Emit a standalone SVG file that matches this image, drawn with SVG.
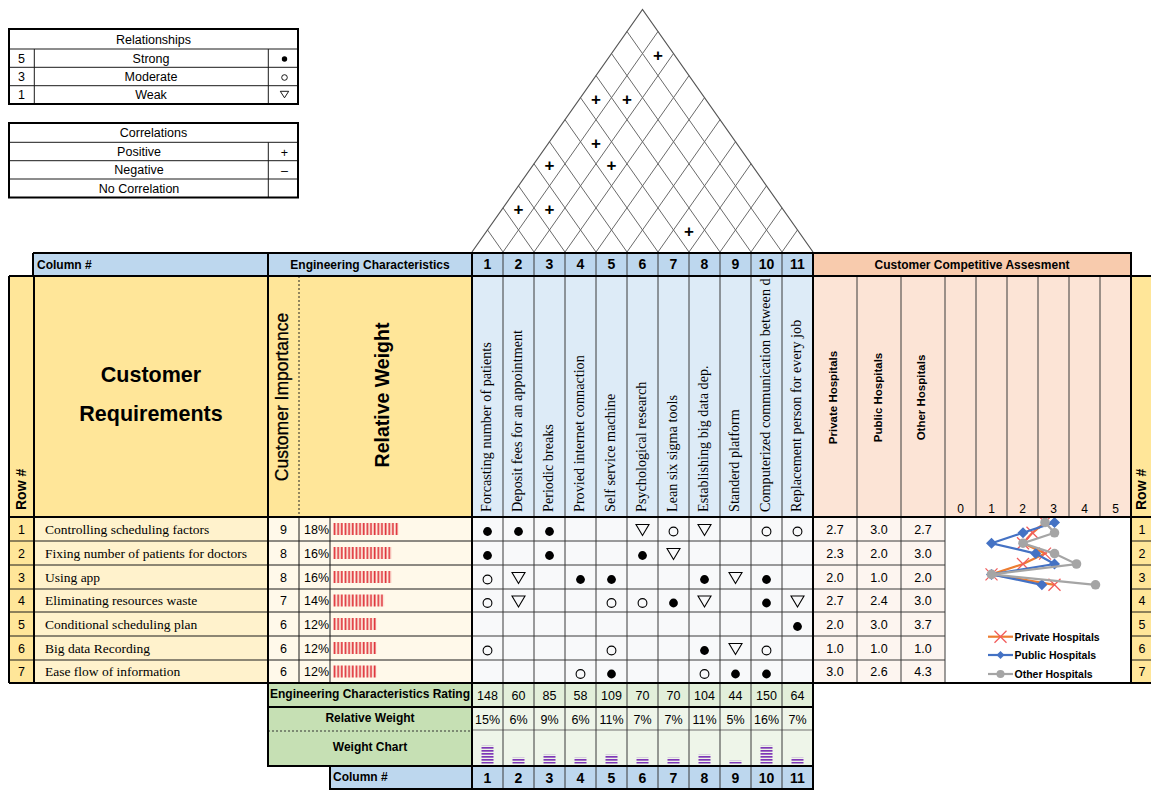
<svg xmlns="http://www.w3.org/2000/svg" width="1151" height="790" viewBox="0 0 1151 790">
<style>
text{font-family:"Liberation Sans",Arial,sans-serif;fill:#000}
.s{font-size:12.5px}
.c{text-anchor:middle}
.b{font-weight:bold}
.h12{font-size:12px;font-weight:bold}
.num{font-size:14px;font-weight:bold;text-anchor:middle}
.ec text{font-family:"Liberation Serif","Times New Roman",serif;font-size:14.2px}
.req text{font-family:"Liberation Serif","Times New Roman",serif;font-size:13.5px}
.thick{stroke:#000;stroke-width:2;fill:none}
.thin{stroke:#1a1a1a;stroke-width:1;fill:none}
.grid{stroke:#3a3a3a;stroke-width:1;fill:none}
.roof{stroke:#6a6a6a;stroke-width:1;fill:none}
.plus{font-size:17px;font-weight:bold;text-anchor:middle}
.leg{font-size:10.5px;font-weight:bold}
</style>
<defs>
<circle id="strong" r="4.4" fill="#000"/>
<circle id="mod" r="4.4" fill="none" stroke="#000" stroke-width="1.1"/>
<polygon id="weak" points="-6.5,-5.5 6.5,-5.5 0,5.5" fill="none" stroke="#000" stroke-width="1.1"/>
<pattern id="redbars" x="333" y="0" width="3.65" height="790" patternUnits="userSpaceOnUse"><rect x="0.6" y="0" width="1.8" height="790" fill="#E0353C"/></pattern>
<pattern id="purbars" x="0" y="0" width="1151" height="3" patternUnits="userSpaceOnUse"><rect x="0" y="0" width="1151" height="1.7" fill="#7E38B7"/></pattern>
<path id="mx" d="M-6,-6L6,6M-6,6L6,-6" stroke="#F25C5C" stroke-width="1.3" fill="none"/>
<polygon id="md" points="0,-5.5 5.5,0 0,5.5 -5.5,0" fill="#4472C4"/>
<circle id="mo" r="4.8" fill="#A5A5A5"/>
<clipPath id="clip10"><rect x="751" y="277" width="31" height="240"/></clipPath>
</defs>
<rect width="1151" height="790" fill="#fff"/>

<!-- Legend: Relationships -->
<g id="legend-relationships">
<rect x="9" y="29" width="289" height="75" fill="#fff"/>
<path class="thin" d="M9,49H298M9,67.3H298M9,85.7H298M34.3,49V104M268.3,49V104"/>
<rect class="thick" x="9" y="29" width="289" height="75"/>
<text class="s c" x="153.5" y="43.5">Relationships</text>
<text class="s c" x="21.5" y="62.7">5</text><text class="s c" x="151" y="62.7">Strong</text>
<text class="s c" x="21.5" y="81">3</text><text class="s c" x="151" y="81">Moderate</text>
<text class="s c" x="21.5" y="99.3">1</text><text class="s c" x="151" y="99.3">Weak</text>
<circle cx="284.5" cy="59" r="2.7" fill="#000"/>
<circle cx="284.5" cy="77.5" r="2.8" fill="none" stroke="#000" stroke-width="0.9"/>
<polygon points="280.3,91.3 288.7,91.3 284.5,97.8" fill="none" stroke="#000" stroke-width="0.9"/>
</g>

<!-- Legend: Correlations -->
<g id="legend-correlations">
<rect x="9" y="123" width="289" height="74.5" fill="#fff"/>
<path class="thin" d="M9,142.3H298M9,160.7H298M9,179H298M268.3,142.3V197.5"/>
<rect class="thick" x="9" y="123" width="289" height="74.5"/>
<text class="s c" x="153.5" y="137">Correlations</text>
<text class="s c" x="139" y="155.9">Positive</text>
<text class="s c" x="139" y="174.3">Negative</text>
<text class="s c" x="139" y="192.7">No Correlation</text>
<text class="s c" x="284.5" y="156.5">+</text>
<text class="s c" x="284.5" y="174.5">–</text>
</g>

<!-- Roof -->
<g id="roof">
<path class="roof" d="M503,252L658,31.5M503,252L487.5,229.95M534,252L673.5,53.55M534,252L503,207.9M565,252L689,75.6M565,252L518.5,185.85M596,252L704.5,97.65M596,252L534,163.8M627,252L720,119.7M627,252L549.5,141.75M658,252L735.5,141.75M658,252L565,119.7M689,252L751,163.8M689,252L580.5,97.65M720,252L766.5,185.85M720,252L596,75.6M751,252L782,207.9M751,252L611.5,53.55M782,252L797.5,229.95M782,252L627,31.5"/>
<path d="M472,252L642.5,9.45L813,252" fill="none" stroke="#555" stroke-width="1.2"/>
<text class="plus" x="658" y="60.5">+</text>
<text class="plus" x="596" y="104.6">+</text>
<text class="plus" x="627" y="104.6">+</text>
<text class="plus" x="596" y="148.7">+</text>
<text class="plus" x="549.5" y="170.8">+</text>
<text class="plus" x="611.5" y="170.8">+</text>
<text class="plus" x="518.5" y="214.9">+</text>
<text class="plus" x="549.5" y="214.9">+</text>
<text class="plus" x="689" y="237">+</text>
</g>

<!-- Top header row -->
<g id="header-row">
<rect x="33" y="253" width="439" height="23" fill="#BDD7EE"/>
<rect x="472" y="253" width="341" height="23" fill="#BDD7EE"/>
<rect x="813" y="253" width="318" height="23" fill="#F8CBAD"/>
<path class="grid" d="M503,253V276M534,253V276M565,253V276M596,253V276M627,253V276M658,253V276M689,253V276M720,253V276M751,253V276M782,253V276"/>
<path class="thick" d="M33,253H472M33,253V276M268,253V276M472,252.5V276M813,252.5V276M813,253H1131V276M472,253H813"/>
<text class="h12" x="37" y="268.5">Column #</text>
<text class="h12 c" x="370" y="268.5">Engineering Characteristics</text>
<text class="h12 c" x="972" y="268.5">Customer Competitive Assesment</text>
<g class="num">
<text x="487.5" y="269">1</text><text x="518.5" y="269">2</text><text x="549.5" y="269">3</text><text x="580.5" y="269">4</text><text x="611.5" y="269">5</text><text x="642.5" y="269">6</text><text x="673.5" y="269">7</text><text x="704.5" y="269">8</text><text x="735.5" y="269">9</text><text x="766.5" y="269">10</text><text x="797.5" y="269">11</text>
</g>
</g>

<!-- Customer requirements header block -->
<g id="requirements-header">
<rect x="9" y="276" width="463" height="241" fill="#FFE699"/>
<path d="M299,276V517" stroke="#222" stroke-width="1" stroke-dasharray="2,2"/>
<text class="b" font-size="14" transform="rotate(-90 25.5 510)" x="25.5" y="510">Row #</text>
<text class="b c" font-size="21.5" x="151" y="381.5">Customer</text>
<text class="b c" font-size="21.5" x="151" y="421">Requirements</text>
<text class="c" font-size="17.5" transform="rotate(-90 287.5 397)" x="287.5" y="397" stroke="#000" stroke-width="0.3">Customer Importance</text>
<text class="b c" font-size="19.5" transform="rotate(-90 389 395)" x="389" y="395">Relative Weight</text>
</g>

<!-- Engineering characteristics header -->
<g id="engineering-characteristics">
<rect x="472" y="276" width="341" height="241" fill="#DDEBF7"/>
<path class="grid" d="M503,276V517M534,276V517M565,276V517M596,276V517M627,276V517M658,276V517M689,276V517M720,276V517M751,276V517M782,276V517"/>
<g class="ec">
<text transform="rotate(-90 491.3 512)" x="491.3" y="512">Forcasting number of patients</text>
<text transform="rotate(-90 522.3 512)" x="522.3" y="512">Deposit fees for an appointment</text>
<text transform="rotate(-90 553.3 512)" x="553.3" y="512">Periodic breaks</text>
<text transform="rotate(-90 584.3 512)" x="584.3" y="512">Provied internet connaction</text>
<text transform="rotate(-90 615.3 512)" x="615.3" y="512">Self service machine</text>
<text transform="rotate(-90 646.3 512)" x="646.3" y="512">Psychological research</text>
<text transform="rotate(-90 677.3 512)" x="677.3" y="512">Lean six sigma tools</text>
<text transform="rotate(-90 708.3 512)" x="708.3" y="512">Establishing big data dep.</text>
<text transform="rotate(-90 739.3 512)" x="739.3" y="512">Standerd platform</text>
<g clip-path="url(#clip10)"><text transform="rotate(-90 770.3 512)" x="770.3" y="512">Computerized communication between d</text></g>
<text transform="rotate(-90 801.3 512)" x="801.3" y="512">Replacement person for every job</text>
</g>
</g>

<!-- Competitive assessment header -->
<g id="competitive-header">
<rect x="813" y="276" width="318" height="241" fill="#FCE4D6"/>
<path class="grid" d="M857,276V683M901,276V683M945,276V683M976,276V517M1007,276V517M1038,276V517M1069,276V517M1100,276V517"/>
<g class="b" font-size="11.5">
<text class="c" transform="rotate(-90 836.5 397.5)" x="836.5" y="397.5">Private Hospitals</text>
<text class="c" transform="rotate(-90 881.5 397.5)" x="881.5" y="397.5">Public Hospitals</text>
<text class="c" transform="rotate(-90 925 397.5)" x="925" y="397.5">Other Hospitals</text>
</g>
<g class="c" font-size="12">
<text x="960.5" y="512.5">0</text><text x="991.5" y="512.5">1</text><text x="1022.5" y="512.5">2</text><text x="1053.5" y="512.5">3</text><text x="1084.5" y="512.5">4</text><text x="1115.5" y="512.5">5</text>
</g>
</g>

<!-- Right row numbers -->
<g id="right-row-numbers">
<rect x="1131" y="276" width="22" height="407" fill="#FFE699"/>
<path class="thin" d="M1131,541H1153M1131,565H1153M1131,589H1153M1131,612H1153M1131,636H1153M1131,660H1153"/>
<text class="b" font-size="14" transform="rotate(-90 1145.5 510)" x="1145.5" y="510">Row #</text>
<g class="s c">
<text x="1142" y="533.5">1</text><text x="1142" y="557.5">2</text><text x="1142" y="581.5">3</text><text x="1142" y="605">4</text><text x="1142" y="628.5">5</text><text x="1142" y="652.5">6</text><text x="1142" y="676">7</text>
</g>
</g>

<!-- Customer requirement rows -->
<g id="requirement-rows">
<rect x="9" y="517" width="25" height="166" fill="#FFE699"/>
<rect x="34" y="517" width="234" height="166" fill="#FFF2CC"/>
<rect x="268" y="517" width="204" height="166" fill="#FFF9EA"/>
<path class="thin" d="M9,541H472M9,565H472M9,589H472M9,612H472M9,636H472M9,660H472M299,517V683M330,517V683"/>
<g class="s c">
<text x="21.5" y="533.5">1</text><text x="21.5" y="557.5">2</text><text x="21.5" y="581.5">3</text><text x="21.5" y="605">4</text><text x="21.5" y="628.5">5</text><text x="21.5" y="652.5">6</text><text x="21.5" y="676">7</text>
<text x="283.5" y="533.5">9</text><text x="283.5" y="557.5">8</text><text x="283.5" y="581.5">8</text><text x="283.5" y="605">7</text><text x="283.5" y="628.5">6</text><text x="283.5" y="652.5">6</text><text x="283.5" y="676">6</text>
</g>
<g class="s">
<text x="304" y="533.5">18%</text><text x="304" y="557.5">16%</text><text x="304" y="581.5">16%</text><text x="304" y="605">14%</text><text x="304" y="628.5">12%</text><text x="304" y="652.5">12%</text><text x="304" y="676">12%</text>
</g>
<g class="req">
<text x="45" y="533.5">Controlling scheduling factors</text>
<text x="45" y="557.5">Fixing number of patients for doctors</text>
<text x="45" y="581.5">Using app</text>
<text x="45" y="605">Eliminating resources waste</text>
<text x="45" y="628.5">Conditional scheduling plan</text>
<text x="45" y="652.5">Big data Recording</text>
<text x="45" y="676">Ease flow of information</text>
</g>
<g fill="url(#redbars)">
<rect x="333" y="523" width="65.7" height="12"/>
<rect x="333" y="547" width="58.4" height="12"/>
<rect x="333" y="571" width="58.4" height="12"/>
<rect x="333" y="594.5" width="51.1" height="12"/>
<rect x="333" y="618" width="43.8" height="12"/>
<rect x="333" y="642" width="43.8" height="12"/>
<rect x="333" y="665.5" width="43.8" height="12"/>
</g>
</g>

<!-- Relationship matrix -->
<g id="matrix">
<rect x="472" y="517" width="341" height="166" fill="#F8F9FA"/>
<path class="grid" d="M472,541H813M472,565H813M472,589H813M472,612H813M472,636H813M472,660H813M503,517V683M534,517V683M565,517V683M596,517V683M627,517V683M658,517V683M689,517V683M720,517V683M751,517V683M782,517V683"/>
<use href="#strong" x="487.5" y="531.5"/><use href="#strong" x="518.5" y="531.5"/><use href="#strong" x="549.5" y="531.5"/><use href="#weak" x="642.5" y="530"/><use href="#mod" x="673.5" y="531.5"/><use href="#weak" x="704.5" y="530"/><use href="#mod" x="766.5" y="531.5"/><use href="#mod" x="797.5" y="531.5"/>
<use href="#strong" x="487.5" y="555.5"/><use href="#strong" x="549.5" y="555.5"/><use href="#strong" x="642.5" y="555.5"/><use href="#weak" x="673.5" y="554"/>
<use href="#mod" x="487.5" y="579.5"/><use href="#weak" x="518.5" y="578"/><use href="#strong" x="580.5" y="579.5"/><use href="#strong" x="611.5" y="579.5"/><use href="#strong" x="704.5" y="579.5"/><use href="#weak" x="735.5" y="578"/><use href="#strong" x="766.5" y="579.5"/>
<use href="#mod" x="487.5" y="603"/><use href="#weak" x="518.5" y="601.5"/><use href="#mod" x="611.5" y="603"/><use href="#mod" x="642.5" y="603"/><use href="#strong" x="673.5" y="603"/><use href="#weak" x="704.5" y="601.5"/><use href="#strong" x="766.5" y="603"/><use href="#weak" x="797.5" y="601.5"/>
<use href="#strong" x="797.5" y="626.5"/>
<use href="#mod" x="487.5" y="650.5"/><use href="#mod" x="611.5" y="650.5"/><use href="#strong" x="704.5" y="650.5"/><use href="#weak" x="735.5" y="649"/><use href="#mod" x="766.5" y="650.5"/>
<use href="#mod" x="580.5" y="674"/><use href="#strong" x="611.5" y="674"/><use href="#mod" x="704.5" y="674"/><use href="#strong" x="735.5" y="674"/><use href="#strong" x="766.5" y="674"/>
</g>

<!-- Competitive values -->
<g id="competitive-values">
<rect x="813" y="517" width="132" height="166" fill="#FDF5F0"/>
<rect x="945" y="517" width="186" height="166" fill="#fff"/>
<path class="grid" d="M813,541H945M813,565H945M813,589H945M813,612H945M813,636H945M813,660H945M857,517V683M901,517V683M945,517V683"/>
<g class="s c">
<text x="835" y="533.5">2.7</text><text x="879" y="533.5">3.0</text><text x="923" y="533.5">2.7</text>
<text x="835" y="557.5">2.3</text><text x="879" y="557.5">2.0</text><text x="923" y="557.5">3.0</text>
<text x="835" y="581.5">2.0</text><text x="879" y="581.5">1.0</text><text x="923" y="581.5">2.0</text>
<text x="835" y="605">2.7</text><text x="879" y="605">2.4</text><text x="923" y="605">3.0</text>
<text x="835" y="628.5">2.0</text><text x="879" y="628.5">3.0</text><text x="923" y="628.5">3.7</text>
<text x="835" y="652.5">1.0</text><text x="879" y="652.5">1.0</text><text x="923" y="652.5">1.0</text>
<text x="835" y="676">3.0</text><text x="879" y="676">2.6</text><text x="923" y="676">4.3</text>
</g>
</g>

<!-- Competitive chart -->
<g id="competitive-chart">
<path d="M1045,522.4L1032.5,532.8L1023,543.2L1045,553.6L1023,564L991.5,574.4L1054.5,584.8" fill="none" stroke="#ED7D31" stroke-width="2.2"/>
<use href="#mx" x="1045" y="522.4"/><use href="#mx" x="1032.5" y="532.8"/><use href="#mx" x="1023" y="543.2"/><use href="#mx" x="1045" y="553.6"/><use href="#mx" x="1023" y="564"/><use href="#mx" x="991.5" y="574.4"/><use href="#mx" x="1054.5" y="584.8"/>
<path d="M1054.5,522.4L1023,532.8L991.5,543.2L1035.6,553.6L1054.5,564L991.5,574.4L1041.9,584.8" fill="none" stroke="#4472C4" stroke-width="2.2"/>
<use href="#md" x="1054.5" y="522.4"/><use href="#md" x="1023" y="532.8"/><use href="#md" x="991.5" y="543.2"/><use href="#md" x="1035.6" y="553.6"/><use href="#md" x="1054.5" y="564"/><use href="#md" x="991.5" y="574.4"/><use href="#md" x="1041.9" y="584.8"/>
<path d="M1045,522.4L1054.5,532.8L1023,543.2L1054.5,553.6L1076.5,564L991.5,574.4L1095.5,584.8" fill="none" stroke="#A5A5A5" stroke-width="2.2"/>
<use href="#mo" x="1045" y="522.4"/><use href="#mo" x="1054.5" y="532.8"/><use href="#mo" x="1023" y="543.2"/><use href="#mo" x="1054.5" y="553.6"/><use href="#mo" x="1076.5" y="564"/><use href="#mo" x="991.5" y="574.4"/><use href="#mo" x="1095.5" y="584.8"/>
<path d="M988,636.7H1013" stroke="#ED7D31" stroke-width="2.2"/><use href="#mx" x="1000.5" y="636.7"/>
<path d="M988,655H1013" stroke="#4472C4" stroke-width="2.2"/><polygon points="1000.5,651 1004.5,655 1000.5,659 996.5,655" fill="#4472C4"/>
<path d="M988,674H1013" stroke="#A5A5A5" stroke-width="2.2"/><circle cx="1000.5" cy="674" r="4" fill="#A5A5A5"/>
<text class="leg" x="1014.5" y="640.5">Private Hospitals</text>
<text class="leg" x="1014.5" y="658.8">Public Hospitals</text>
<text class="leg" x="1014.5" y="677.8">Other Hospitals</text>
</g>

<!-- Bottom rating block -->
<g id="ratings">
<rect x="268" y="683" width="204" height="83" fill="#C6E0B4"/>
<rect x="472" y="683" width="341" height="24" fill="#E2EFDA"/>
<rect x="472" y="707" width="341" height="59" fill="#EEF5E9"/>
<path d="M472,730H813" stroke="#707070" stroke-width="1.2"/>
<path d="M268,731H472" stroke="#333" stroke-width="1" stroke-dasharray="2,2"/>
<path class="grid" d="M503,683V766M534,683V766M565,683V766M596,683V766M627,683V766M658,683V766M689,683V766M720,683V766M751,683V766M782,683V766"/>
<text class="h12 c" x="370" y="697.5">Engineering Characteristics Rating</text>
<text class="h12 c" x="370" y="721.5">Relative Weight</text>
<text class="h12 c" x="370" y="750.5">Weight Chart</text>
<g class="s c">
<text x="487.5" y="699.5">148</text><text x="518.5" y="699.5">60</text><text x="549.5" y="699.5">85</text><text x="580.5" y="699.5">58</text><text x="611.5" y="699.5">109</text><text x="642.5" y="699.5">70</text><text x="673.5" y="699.5">70</text><text x="704.5" y="699.5">104</text><text x="735.5" y="699.5">44</text><text x="766.5" y="699.5">150</text><text x="797.5" y="699.5">64</text>
<text x="487.5" y="723.5">15%</text><text x="518.5" y="723.5">6%</text><text x="549.5" y="723.5">9%</text><text x="580.5" y="723.5">6%</text><text x="611.5" y="723.5">11%</text><text x="642.5" y="723.5">7%</text><text x="673.5" y="723.5">7%</text><text x="704.5" y="723.5">11%</text><text x="735.5" y="723.5">5%</text><text x="766.5" y="723.5">16%</text><text x="797.5" y="723.5">7%</text>
</g>
<g fill="url(#purbars)">
<rect x="481.5" y="745.7" width="12" height="18"/>
<rect x="512.5" y="757.7" width="12" height="6"/>
<rect x="543.5" y="754.7" width="12" height="9"/>
<rect x="574.5" y="757.7" width="12" height="6"/>
<rect x="605.5" y="754.7" width="12" height="9"/>
<rect x="636.5" y="757.7" width="12" height="6"/>
<rect x="667.5" y="757.7" width="12" height="6"/>
<rect x="698.5" y="754.7" width="12" height="9"/>
<rect x="729.5" y="760.7" width="12" height="3"/>
<rect x="760.5" y="745.7" width="12" height="18"/>
<rect x="791.5" y="757.7" width="12" height="6"/>
</g>
<path class="thick" d="M268,683V766H813V683M268,707H813M472,683V766"/>
</g>

<!-- Bottom column numbers -->
<g id="bottom-column-numbers">
<rect x="330" y="766" width="483" height="23" fill="#BDD7EE"/>
<path class="grid" d="M503,766V789M534,766V789M565,766V789M596,766V789M627,766V789M658,766V789M689,766V789M720,766V789M751,766V789M782,766V789"/>
<rect class="thick" x="330" y="766" width="483" height="23"/>
<path class="thick" d="M472,766V789"/>
<text class="h12" x="333" y="781">Column #</text>
<g class="num">
<text x="487.5" y="783">1</text><text x="518.5" y="783">2</text><text x="549.5" y="783">3</text><text x="580.5" y="783">4</text><text x="611.5" y="783">5</text><text x="642.5" y="783">6</text><text x="673.5" y="783">7</text><text x="704.5" y="783">8</text><text x="735.5" y="783">9</text><text x="766.5" y="783">10</text><text x="797.5" y="783">11</text>
</g>
</g>

<!-- Main frame lines -->
<g id="frame">
<path class="thick" d="M9,276H1153M9,517H1153M9,683H1153M9,276V683M34,276V683M268,276V683M472,276V683M813,276V683M1131,276V683"/>
</g>
</svg>
